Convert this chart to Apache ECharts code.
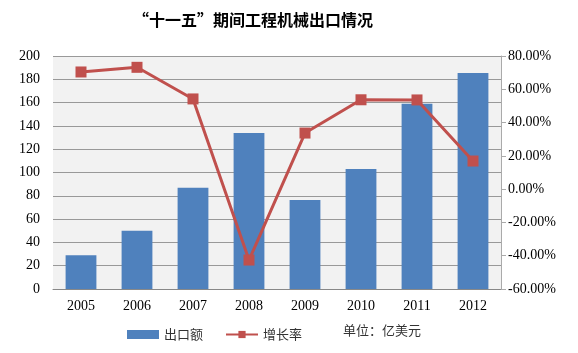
<!DOCTYPE html>
<html>
<head>
<meta charset="utf-8">
<script src="https://cdn.jsdelivr.net/npm/echarts@6/dist/echarts.min.js"></script>
<style>
  html, body { margin: 0; padding: 0; background: #fff; }
  #chart { width: 578px; height: 353px; }
</style>
</head>
<body>
<div id="chart"></div>
<script>
// 数据：出口额（亿美元）与增长率（%）
const years = ["2005", "2006", "2007", "2008", "2009", "2010", "2011", "2012"];
const exportValue = [29, 50, 87, 134, 76.5, 103, 159, 185.5];
const growthRate = [70.4, 73.2, 54.2, -42.6, 33.7, 53.7, 53.6, 16.9];

const serif = "Liberation Serif";
const cjk = "Noto Sans CJK SC";

const chart = echarts.init(document.getElementById("chart"));
chart.setOption({
  animation: false,
  title: {
    text: "“十一五”期间工程机械出口情况",
    left: 128,
    top: 7,
    textStyle: { fontFamily: cjk, fontSize: 16, fontWeight: "bold", color: "#000" }
  },
  legend: {
    left: 122,
    top: 323,
    itemGap: 22,
    itemWidth: 32,
    itemHeight: 9,
    textStyle: { fontFamily: cjk, fontSize: 13, color: "#333" },
    data: [
      { name: "出口额", icon: "rect" },
      { name: "增长率" }
    ]
  },
  graphic: [{
    type: "text",
    left: 343,
    top: 324,
    style: { text: "单位：亿美元", font: "13px " + cjk, fill: "#333" }
  }],
  grid: {
    left: 53, right: 77, top: 56, bottom: 64,
    show: true, backgroundColor: "#f2f2f2", borderWidth: 0
  },
  xAxis: {
    type: "category",
    data: years,
    axisLine: { lineStyle: { color: "#888" } },
    axisTick: { show: false },
    axisLabel: { fontFamily: serif, fontSize: 14, color: "#000", margin: 10 }
  },
  yAxis: [{
    type: "value",
    min: 0, max: 200, interval: 20,
    axisLine: { show: false },
    axisTick: { show: false },
    splitLine: { lineStyle: { color: "#999" } },
    axisLabel: { fontFamily: serif, fontSize: 14, color: "#000", margin: 13 }
  }, {
    type: "value",
    min: -60, max: 80, interval: 20,
    axisLine: { show: true, lineStyle: { color: "#aaa" } },
    axisTick: { show: true, length: 5, lineStyle: { color: "#aaa" } },
    splitLine: { show: false },
    axisLabel: {
      fontFamily: serif, fontSize: 14, color: "#000", margin: 7,
      formatter: v => v.toFixed(2) + "%"
    }
  }],
  series: [{
    name: "出口额",
    type: "bar",
    data: exportValue,
    barWidth: "55%",
    itemStyle: { color: "#4f81bd" }
  }, {
    name: "增长率",
    type: "line",
    yAxisIndex: 1,
    data: growthRate,
    symbol: "rect",
    symbolSize: 11,
    lineStyle: { color: "#c0504d", width: 3 },
    itemStyle: { color: "#c0504d" }
  }]
});
</script>
</body>
</html>
